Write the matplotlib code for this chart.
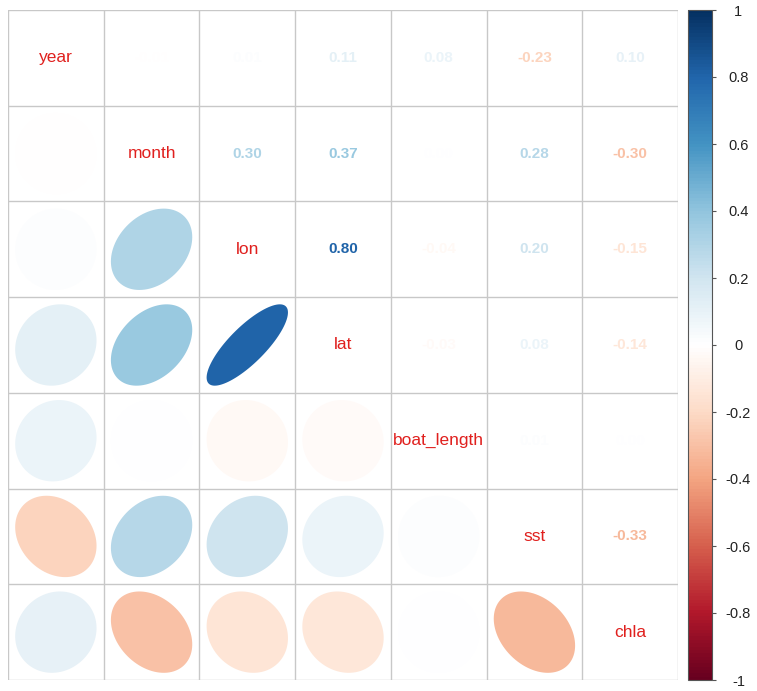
import numpy as np
import matplotlib.pyplot as plt
from matplotlib.colors import LinearSegmentedColormap, Normalize
from matplotlib.patches import Polygon
import matplotlib.cm as cm

plt.rcParams['font.family'] = ['Liberation Sans', 'DejaVu Sans']

# variables and correlation matrix
names = ['year', 'month', 'lon', 'lat', 'boat_length', 'sst', 'chla']
corr = np.array([
    [1.00, -0.01, 0.01, 0.11, 0.08, -0.23, 0.10],
    [-0.01, 1.00, 0.30, 0.37, 0.00, 0.28, -0.30],
    [0.01, 0.30, 1.00, 0.80, -0.04, 0.20, -0.15],
    [0.11, 0.37, 0.80, 1.00, -0.03, 0.08, -0.14],
    [0.08, 0.00, -0.04, -0.03, 1.00, 0.01, 0.00],
    [-0.23, 0.28, 0.20, 0.08, 0.01, 1.00, -0.33],
    [0.10, -0.30, -0.15, -0.14, 0.00, -0.33, 1.00],
])
cbar_ticks = [-1, -0.8, -0.6, -0.4, -0.2, 0, 0.2, 0.4, 0.6, 0.8, 1]

# corrplot RdBu palette
cmap = LinearSegmentedColormap.from_list('corrRdBu', [
    '#67001F', '#B2182B', '#D6604D', '#F4A582', '#FDDBC7', '#FFFFFF',
    '#D1E5F0', '#92C5DE', '#4393C3', '#2166AC', '#053061'], N=200)
norm = Normalize(-1, 1)

W, H = 757, 691
fig = plt.figure(figsize=(W / 100, H / 100), dpi=100)
ax = fig.add_axes([8 / W, (H - 680) / H, 670 / W, 670 / H])
n = len(names)
ax.set_xlim(0.5, n + 0.5)
ax.set_ylim(n + 0.5, 0.5)
ax.axis('off')

grid_col = '#C8C8C8'
for k in range(n + 1):
    ax.plot([0.5, n + 0.5], [k + 0.5, k + 0.5], color=grid_col, lw=1, zorder=1)
    ax.plot([k + 0.5, k + 0.5], [0.5, n + 0.5], color=grid_col, lw=1, zorder=1)

t = np.linspace(0, 2 * np.pi, 99)
for i in range(n):
    for j in range(n):
        r = corr[i, j]
        col = cmap(norm(r))
        cx, cy = j + 1, i + 1
        if i == j:
            ax.text(cx, cy, names[i], color='#E0201E', fontsize=12.5,
                    ha='center', va='center', zorder=3)
        elif i > j:
            a = np.arccos(r) / 2
            ex = 0.85 * np.cos(t + a) / 2
            ey = 0.85 * np.cos(t - a) / 2
            pts = np.column_stack([cx + ex, cy - ey])
            ax.add_patch(Polygon(pts, closed=True, facecolor=col,
                                 edgecolor='none', zorder=2))
        else:
            ax.text(cx, cy, f'{r:.2f}', color=col, fontsize=11,
                    fontweight='bold', ha='center', va='center', zorder=3)

# colorbar
cax = fig.add_axes([688 / W, (H - 680) / H, 24 / W, 670 / H])
sm = cm.ScalarMappable(norm=norm, cmap=cmap)
cb = fig.colorbar(sm, cax=cax, ticks=cbar_ticks)
cb.outline.set_edgecolor('#555555')
cb.outline.set_linewidth(0.8)
cb.ax.set_yticklabels([f'{v:g}' for v in cbar_ticks])
cb.ax.tick_params(length=3, width=0.8, color='#555555', pad=16,
                  labelsize=10.5, labelcolor='#222222')
for lab in cb.ax.get_yticklabels():
    lab.set_horizontalalignment('center')

fig.savefig('out.png', dpi=100)
